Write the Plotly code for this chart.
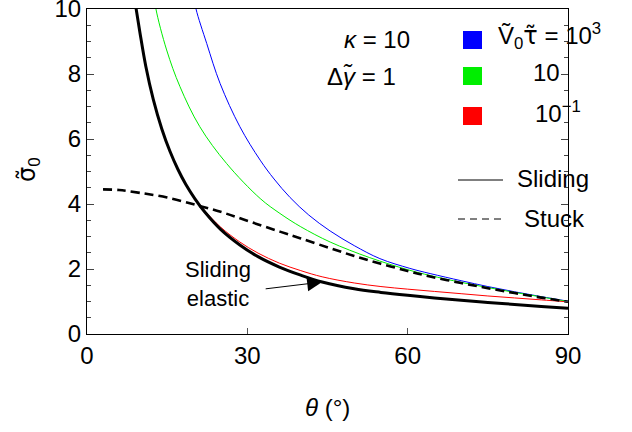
import plotly.graph_objects as go

# ---- data (theta in degrees, sigma0 dimensionless) ----
theta_elastic = [8.8, 9.2, 9.9, 11, 12.4, 14, 15.5, 17, 18.5, 20.2, 22, 25, 28.6, 32, 36, 40, 44, 50, 55, 60, 65, 70, 75, 80, 85, 90]
sigma_elastic = [10.45, 10.0, 9.28, 8.24, 7.22, 6.31, 5.63, 5.07, 4.6, 4.16, 3.76, 3.22, 2.74, 2.38, 2.06, 1.81, 1.6, 1.39, 1.28, 1.19, 1.11, 1.04, 0.97, 0.91, 0.85, 0.79]

theta_red = [8.8, 9.2, 9.9, 11, 12.4, 14, 15.5, 17, 18.5, 20.2, 22, 25, 28.6, 32, 36, 40, 44, 50, 55, 60, 65, 70, 75, 80, 85, 90]
sigma_red = [10.45, 10.0, 9.28, 8.24, 7.22, 6.31, 5.63, 5.07, 4.61, 4.18, 3.8, 3.29, 2.83, 2.49, 2.18, 1.95, 1.76, 1.57, 1.46, 1.38, 1.31, 1.24, 1.17, 1.11, 1.05, 0.99]

theta_green = [12.6, 12.9, 14.9, 17.4, 21.1, 26.1, 32.4, 36.1, 40, 45.5, 52.9, 60, 64.2, 70, 75, 80, 85, 90]
sigma_green = [10.4, 10.0, 8.74, 7.61, 6.38, 5.25, 4.17, 3.71, 3.3, 2.83, 2.35, 1.98, 1.8, 1.59, 1.43, 1.28, 1.14, 1.0]

theta_blue = [20.0, 20.4, 22.4, 24.9, 28.6, 32.4, 35, 38, 41.5, 45.5, 50, 54.8, 60.4, 64.2, 70, 75, 80, 85, 90]
sigma_blue = [10.4, 10.0, 8.94, 7.71, 6.38, 5.35, 4.77, 4.2, 3.66, 3.17, 2.72, 2.32, 2.02, 1.86, 1.64, 1.46, 1.3, 1.15, 1.01]

theta_stuck = [3, 6, 10, 15, 20.4, 25, 29.7, 36.1, 40, 45.5, 50, 54.8, 60, 64.2, 70, 75, 80, 85, 90]
sigma_stuck = [4.45, 4.43, 4.34, 4.2, 3.97, 3.76, 3.5, 3.15, 2.94, 2.64, 2.4, 2.17, 1.94, 1.77, 1.57, 1.41, 1.26, 1.12, 0.99]

TILDE = "font-family:'DejaVu Sans'"
series_labels = ["Ṽ<sub>0</sub><span style=\"%s\">τ̃</span> = 10<sup>3</sup>" % TILDE, "10", "10<sup>−1</sup>"]
series_colors = ["#0000ff", "#00ee00", "#ff0000"]

FONT = "Liberation Sans, Arial, sans-serif"

fig = go.Figure()

def add_line(x, y, color, width, dash="solid"):
    fig.add_trace(go.Scatter(x=x, y=y, mode="lines",
                             line=dict(color=color, width=width, dash=dash, shape="spline", smoothing=1.0),
                             showlegend=False, hoverinfo="skip"))

add_line(theta_blue, sigma_blue, series_colors[0], 1)
add_line(theta_green, sigma_green, series_colors[1], 1)
add_line(theta_red, sigma_red, series_colors[2], 1)
add_line(theta_elastic, sigma_elastic, "black", 3)
add_line(theta_stuck, sigma_stuck, "black", 2.6, dash="9px,5px")

# plot area in pixels
L, R, T, B = 87, 568, 9, 334
W, H = R - L, B - T
def px(x):
    return (x - L) / W
def py(y):
    return (B - y) / H

annotations = []
shapes = []
def txt(x, y, text, size=24, xanchor="center", **kw):
    annotations.append(dict(xref="paper", yref="paper", x=px(x), y=py(y), text=text, showarrow=False,
                            font=dict(size=size, family=FONT, color="black"), xanchor=xanchor, yanchor="middle", **kw))

# parameter text
txt(377, 39, "<i>κ</i> = 10")
txt(361, 76, "Δ<i>γ̃</i> = 1")
# colour legend
sq_y = [40, 76, 116]
txt_x = [549, 546, 558]
for lab, col, yc, tx in zip(series_labels, series_colors, sq_y, txt_x):
    shapes.append(dict(type="rect", xref="paper", yref="paper", x0=px(463), x1=px(482), y0=py(yc + 9), y1=py(yc - 9),
                       fillcolor=col, line=dict(color=col, width=0)))
    txt(tx, yc - 4, lab)
# line-style legend
shapes.append(dict(type="line", xref="paper", yref="paper", x0=px(458), x1=px(503), y0=py(180), y1=py(180),
                   line=dict(color="black", width=1)))
shapes.append(dict(type="line", xref="paper", yref="paper", x0=px(458), x1=px(503), y0=py(219), y1=py(219),
                   line=dict(color="black", width=1, dash="7px,5px")))
txt(515, 179, "Sliding", xanchor="left")
txt(522, 218, "Stuck", xanchor="left")
# sliding elastic label + arrow
txt(218, 284, "Sliding<br>elastic", size=22, align="center")
annotations.append(dict(x=44.0, y=1.6, xref="x", yref="y", text="", showarrow=True, arrowhead=2, arrowsize=3,
                        arrowwidth=1, arrowcolor="black", ax=-58, ay=7, standoff=0))
# axis titles
txt(327, 407, "<i>θ</i> (°)", size=24)
txt(28, 170, "<span style=\"%s\">σ̃</span><sub>0</sub>" % TILDE, size=24, textangle=-90)

fig.update_layout(
    width=632, height=432,
    margin=dict(l=L, r=632 - R, t=T, b=432 - B, autoexpand=False),
    plot_bgcolor="white", paper_bgcolor="white",
    font=dict(family=FONT, size=24, color="black"),
    showlegend=False,
    shapes=shapes, annotations=annotations,
    xaxis=dict(range=[0, 90], tickvals=[0, 30, 60, 90], ticks="inside", ticklen=6, tickcolor="#555",
               showline=True, linecolor="black", linewidth=1, mirror=True, showgrid=False, zeroline=False,
               tickfont=dict(size=24), automargin=False, ticklabeloverflow="allow"),
    yaxis=dict(range=[0, 10.001], tickvals=[0, 2, 4, 6, 8, 10], ticks="inside", ticklen=7, tickcolor="#444",
               minor=dict(dtick=0.5, ticks="inside", ticklen=4, tickcolor="#444"),
               showline=True, linecolor="black", linewidth=1, mirror="ticks", showgrid=False, zeroline=False,
               tickfont=dict(size=24), automargin=False, ticklabeloverflow="allow"),
)

fig.write_html("out.html", config={"displayModeBar": False, "staticPlot": True},
               post_script="document.body.style.margin='0px';document.body.style.overflow='hidden';")
